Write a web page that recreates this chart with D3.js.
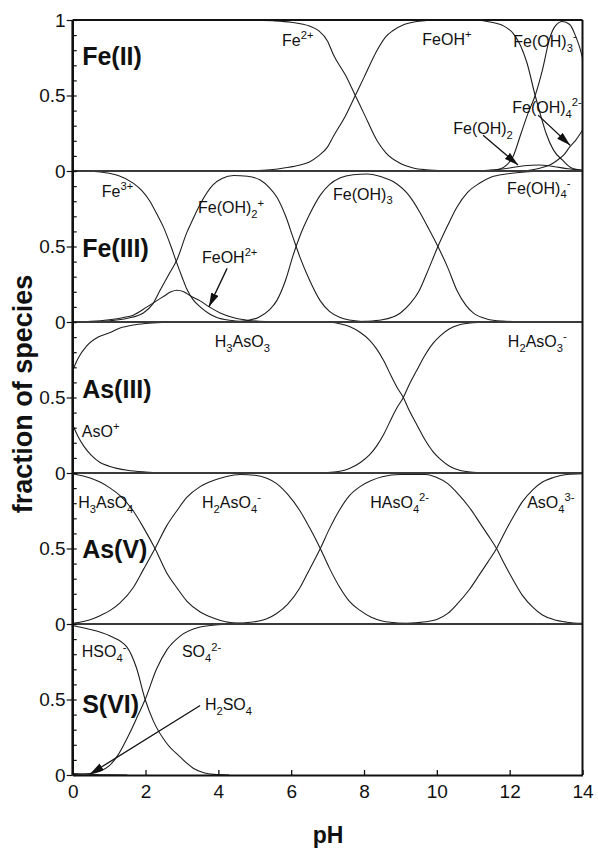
<!DOCTYPE html>
<html><head><meta charset="utf-8">
<script src="https://cdn.jsdelivr.net/npm/d3@7"></script>
<style>body{margin:0;background:#fff}text{font-family:"Liberation Sans",Arial,Helvetica,sans-serif}</style>
</head><body>
<svg id="c" width="598" height="850"></svg>
<script>
// ---------- data (pH, fraction) ----------
const panelNames = ["Fe(II)","Fe(III)","As(III)","As(V)","S(VI)"];
const xTicks = [0,2,4,6,8,10,12,14];
const yMajor = [0,0.5,1];
const yMinor = [0,0.1,0.2,0.3,0.4,0.5,0.6,0.7,0.8,0.9,1];

// Fe(II)
const fe2 = [[0,1],[5,0.999],[5.5,0.995],[6,0.985],[6.5,0.96],[6.75,0.93],[7,0.86],[7.16,0.77],[7.5,0.63],[7.76,0.5],[8,0.38],[8.36,0.2],[8.6,0.12],[9,0.05],[9.35,0.02],[9.7,0.008],[10.2,0.002],[11,0]];
const feOHp = [[4.5,0],[5,0.003],[5.5,0.01],[5.8,0.02],[6.25,0.04],[6.5,0.06],[6.75,0.1],[7,0.16],[7.16,0.23],[7.5,0.37],[7.76,0.5],[8,0.62],[8.36,0.8],[8.6,0.89],[8.8,0.93],[9.1,0.97],[9.45,0.99],[10,1],[11,1],[11.5,0.985],[11.8,0.965],[12.1,0.91],[12.3,0.83],[12.47,0.72],[12.7,0.5],[12.85,0.37],[13,0.25],[13.2,0.14],[13.46,0.07],[13.7,0.02],[14,0.005]];
const feOH3m = [[11,0],[11.5,0.006],[11.75,0.015],[11.92,0.04],[12.1,0.1],[12.3,0.24],[12.5,0.38],[12.7,0.5],[12.9,0.67],[13.1,0.88],[13.25,0.96],[13.45,0.99],[13.65,0.97],[13.8,0.9],[13.92,0.82],[14,0.75]];
const feOH42m = [[12.4,0],[12.85,0.02],[13.1,0.04],[13.3,0.07],[13.5,0.11],[13.65,0.16],[13.8,0.2],[14,0.27]];
const feOH2 = [[11,0],[11.5,0.005],[12,0.02],[12.4,0.035],[12.8,0.04],[13.2,0.03],[13.6,0.015],[14,0.005]];

// Fe(III)
const fe3 = [[0,1],[0.5,0.998],[1,0.985],[1.25,0.97],[1.66,0.92],[1.9,0.87],[2.12,0.8],[2.3,0.72],[2.49,0.63],[2.7,0.5],[2.86,0.39],[3,0.3],[3.13,0.22],[3.3,0.15],[3.5,0.1],[3.75,0.055],[3.96,0.03],[4.3,0.012],[4.8,0.003],[5.3,0]];
const feOH2p = [[0,0.002],[0.5,0.005],[1,0.015],[1.4,0.03],[1.66,0.045],[2.04,0.1],[2.3,0.14],[2.5,0.17],[2.7,0.2],[2.86,0.21],[3.05,0.2],[3.25,0.17],[3.5,0.14],[3.75,0.1],[4.05,0.06],[4.4,0.03],[4.8,0.012],[5.3,0.003],[6,0]];
const feOH2plus = [[0.5,0],[1.03,0.008],[1.5,0.025],[1.94,0.06],[2.2,0.12],[2.4,0.21],[2.65,0.32],[2.86,0.41],[3.13,0.59],[3.3,0.68],[3.5,0.78],[3.86,0.91],[4.1,0.95],[4.42,0.97],[4.8,0.965],[5.15,0.94],[5.4,0.89],[5.6,0.83],[5.85,0.7],[6.05,0.56],[6.24,0.43],[6.5,0.28],[6.8,0.14],[7.05,0.07],[7.35,0.03],[7.7,0.01],[8.3,0]];
const feOH3 = [[4.3,0],[4.8,0.01],[5.1,0.03],[5.4,0.08],[5.6,0.14],[5.85,0.28],[6.05,0.44],[6.24,0.57],[6.5,0.71],[6.8,0.84],[7.05,0.91],[7.35,0.955],[7.7,0.975],[8.08,0.98],[8.5,0.96],[8.8,0.93],[9.26,0.83],[9.5,0.74],[9.75,0.63],[10.03,0.5],[10.3,0.36],[10.55,0.21],[10.8,0.11],[11,0.06],[11.37,0.02],[11.8,0.006],[12.5,0]];
const feOH4m = [[7.5,0],[8,0.004],[8.5,0.015],[9,0.06],[9.26,0.12],[9.5,0.2],[9.72,0.32],[10.03,0.5],[10.3,0.64],[10.55,0.76],[10.85,0.86],[11.18,0.92],[11.5,0.96],[11.9,0.98],[12.5,0.995],[13,1],[14,1]];

// As(III)
const asOp = [[0,0.32],[0.15,0.24],[0.3,0.18],[0.5,0.12],[0.75,0.07],[1,0.045],[1.5,0.018],[2,0.007],[2.5,0.002],[3,0]];
const h3aso3 = [[0,0.68],[0.15,0.76],[0.38,0.84],[0.7,0.9],[1.03,0.93],[1.3,0.96],[1.66,0.98],[2,0.99],[2.5,0.997],[3,1],[7,1],[7.3,0.99],[7.6,0.97],[7.9,0.93],[8.15,0.88],[8.35,0.82],[8.55,0.74],[8.75,0.64],[8.9,0.57],[9.08,0.5],[9.25,0.41],[9.45,0.32],[9.65,0.23],[9.9,0.14],[10.1,0.09],[10.35,0.045],[10.6,0.02],[11,0.005],[11.5,0]];
const h2aso3m = [[6.5,0],[7,0.003],[7.3,0.01],[7.6,0.03],[7.9,0.07],[8.15,0.12],[8.35,0.18],[8.55,0.26],[8.75,0.36],[8.9,0.43],[9.08,0.5],[9.25,0.59],[9.45,0.68],[9.65,0.77],[9.9,0.86],[10.1,0.91],[10.35,0.955],[10.6,0.98],[11,0.995],[11.5,1],[14,1]];

// As(V)
const h3aso4 = [[0,0.995],[0.5,0.965],[0.75,0.94],[1.03,0.9],[1.3,0.85],[1.66,0.75],[1.94,0.64],[2.26,0.5],[2.58,0.34],[2.86,0.24],[3.14,0.15],[3.5,0.08],[3.86,0.04],[4.2,0.015],[4.6,0.005],[5,0]];
const h2aso4m = [[0,0.005],[0.5,0.03],[0.75,0.055],[1.03,0.09],[1.3,0.14],[1.66,0.24],[1.94,0.36],[2.26,0.5],[2.58,0.65],[2.86,0.75],[3.14,0.84],[3.5,0.91],[3.86,0.95],[4.2,0.975],[4.6,0.99],[5,0.985],[5.33,0.965],[5.6,0.93],[5.9,0.86],[6.24,0.75],[6.5,0.64],[6.8,0.5],[7.05,0.37],[7.34,0.24],[7.6,0.15],[7.89,0.09],[8.2,0.045],[8.5,0.02],[8.8,0.01],[9.5,0]];
const haso4 = [[4.3,0],[4.6,0.006],[5,0.015],[5.33,0.035],[5.6,0.07],[5.9,0.13],[6.24,0.24],[6.5,0.36],[6.8,0.5],[7.05,0.63],[7.34,0.76],[7.6,0.85],[7.89,0.91],[8.2,0.95],[8.5,0.975],[9,0.99],[9.7,0.99],[10,0.97],[10.3,0.93],[10.55,0.87],[10.9,0.77],[11.18,0.67],[11.4,0.59],[11.64,0.5],[11.85,0.4],[12.1,0.29],[12.35,0.19],[12.64,0.11],[12.9,0.06],[13.2,0.03],[13.57,0.012],[14,0.004]];
const aso4 = [[9,0.003],[9.5,0.01],[9.7,0.015],[10,0.03],[10.3,0.07],[10.55,0.13],[10.9,0.23],[11.18,0.33],[11.4,0.41],[11.64,0.5],[11.85,0.6],[12.1,0.71],[12.35,0.81],[12.64,0.89],[12.9,0.94],[13.2,0.97],[13.57,0.99],[14,0.995]];

// S(VI)
const hso4m = [[0,0.99],[0.38,0.97],[1.03,0.92],[1.48,0.85],[1.75,0.71],[1.99,0.5],[2.21,0.36],[2.58,0.21],[2.95,0.12],[3.31,0.045],[3.6,0.015],[3.87,0.004],[4.3,0]];
const so4 = [[0,0.003],[0.4,0.008],[0.75,0.025],[1,0.06],[1.21,0.12],[1.57,0.28],[1.8,0.4],[1.99,0.5],[2.3,0.7],[2.59,0.83],[2.95,0.92],[3.5,0.98],[4,0.995],[4.5,1],[14,1]];
const h2so4 = [[0,0.01],[0.3,0.007],[0.6,0.004],[1,0.001],[1.5,0]];

const panelSeries = [
  [fe2, feOHp, feOH3m, feOH42m, feOH2],
  [fe3, feOH2p, feOH2plus, feOH3, feOH4m],
  [asOp, h3aso3, h2aso3m],
  [h3aso4, h2aso4m, haso4, aso4],
  [hso4m, so4, h2so4]
];

// species labels: panel index, text (with _{sub} ^{sup}), anchor pH, fraction
const speciesLabels = [
  [0,"Fe^{2+}",5.75,0.83],[0,"FeOH^{+}",9.6,0.835],[0,"Fe(OH)_{3}^{-}",12.1,0.82],
  [0,"Fe(OH)_{4}^{2-}",12.07,0.385],[0,"Fe(OH)_{2}",10.45,0.245],
  [1,"Fe^{3+}",0.8,0.83],[1,"Fe(OH)_{2}^{+}",3.44,0.72],[1,"FeOH^{2+}",3.55,0.39],
  [1,"Fe(OH)_{3}",7.15,0.81],[1,"Fe(OH)_{4}^{-}",11.93,0.85],
  [2,"H_{3}AsO_{3}",3.9,0.835],[2,"H_{2}AsO_{3}^{-}",11.95,0.835],[2,"AsO^{+}",0.25,0.24],
  [3,"H_{3}AsO_{4}",0.15,0.77],[3,"H_{2}AsO_{4}^{-}",3.55,0.77],[3,"HAsO_{4}^{2-}",8.17,0.77],[3,"AsO_{4}^{3-}",12.48,0.77],
  [4,"HSO_{4}^{-}",0.25,0.78],[4,"SO_{4}^{2-}",3.0,0.78],[4,"H_{2}SO_{4}",3.63,0.43]
];
// arrows: panel, from (pH, frac) to (pH, frac)
const arrows = [
  [0, 11.27,0.236, 12.23,0.04],
  [0, 12.78,0.37, 13.66,0.17],
  [1, 4.24,0.355, 3.74,0.1],
  [4, 3.5,0.46, 0.47,0.005]
];

// ---------- layout ----------
const svg = d3.select("#c");
const PL = 72.7, PR = 582.5, PT = 20, PH = 151;
const x = d3.scaleLinear().domain([0,14]).range([PL,PR]);
const yScale = i => d3.scaleLinear().domain([0,1]).range([PT+(i+1)*PH, PT+i*PH]);
const font = '"Liberation Sans",Arial,Helvetica,sans-serif';

function rich(sel, str, size){
  const re = /(_\{[^}]*\}|\^\{[^}]*\}|[^_^]+)/g;
  let m, shift = 0;
  while((m = re.exec(str))){
    const tok = m[0];
    let t = tok, s = size, ns = 0;
    if(tok[0]==="_"){ t = tok.slice(2,-1); s = size*0.7; ns = size*0.3; }
    else if(tok[0]==="^"){ t = tok.slice(2,-1); s = size*0.7; ns = -size*0.42; }
    sel.append("tspan").attr("font-size", s).attr("dy", ns-shift).text(t);
    shift = ns;
  }
}

const line = d3.line().curve(d3.curveMonotoneX);

panelSeries.forEach((series,i)=>{
  const y = yScale(i);
  line.x(d=>x(d[0])).y(d=>y(d[1]));
  const g = svg.append("g");
  series.forEach(s=>{
    g.append("path").attr("d", line(s)).attr("fill","none")
      .attr("stroke","#1e1e1e").attr("stroke-width",1.1);
  });
});

// panel separator lines
for(let i=1;i<5;i++){
  const yy = PT+i*PH;
  svg.append("line").attr("x1",PL).attr("x2",PR).attr("y1",yy).attr("y2",yy)
    .attr("stroke","#3a3a3a").attr("stroke-width",1.8);
}
// frame
svg.append("line").attr("x1",PL).attr("x2",PR).attr("y1",PT).attr("y2",PT).attr("stroke","#111").attr("stroke-width",2);
svg.append("line").attr("x1",PR).attr("x2",PR).attr("y1",PT).attr("y2",PT+5*PH).attr("stroke","#111").attr("stroke-width",2);

const titleFrac = [0.7,0.43,0.5,0.44,0.41];
// y axes per panel
panelSeries.forEach((s,i)=>{
  const y = yScale(i);
  const gMin = svg.append("g").attr("transform",`translate(${PL},0)`)
    .call(d3.axisRight(y).tickValues(yMinor).tickSize(4).tickFormat(""));
  gMin.select(".domain").remove();
  gMin.selectAll("line").attr("stroke","#111").attr("stroke-width",1.2);
  const vals = i===0 ? yMajor : [0,0.5];
  const gMaj = svg.append("g").attr("transform",`translate(${PL},0)`)
    .call(d3.axisLeft(y).tickValues(vals).tickSize(6).tickPadding(1).tickFormat(d=>d===0.5?"0.5":String(d)));
  gMaj.select(".domain").remove();
  gMaj.selectAll("line").attr("stroke","#111").attr("stroke-width",1.2);
  gMaj.selectAll("text").attr("font-size",19).attr("font-family",font).attr("fill","#111");
  svg.append("text").attr("x",x(0.26)).attr("y",y(titleFrac[i]))
    .attr("font-size",25).attr("font-weight","bold").attr("font-family",font).attr("fill","#111").text(panelNames[i]);
});
// left axis line
svg.append("line").attr("x1",PL).attr("x2",PL).attr("y1",PT).attr("y2",PT+5*PH).attr("stroke","#111").attr("stroke-width",2.6);

// x axis
const yb = PT+5*PH;
const gx = svg.append("g").attr("transform",`translate(0,${yb})`)
  .call(d3.axisBottom(x).tickValues(xTicks).tickSizeInner(-5).tickSizeOuter(0).tickPadding(9.5));
gx.select(".domain").attr("stroke","#111").attr("stroke-width",2.2);
gx.selectAll("line").attr("stroke","#111").attr("stroke-width",1.3);
gx.selectAll("text").attr("font-size",19).attr("font-family",font).attr("fill","#111");

// species labels
speciesLabels.forEach(([p,txt,ph,fr])=>{
  const y = yScale(p);
  const t = svg.append("text").attr("x",x(ph)).attr("y",y(fr)).attr("font-size",16).attr("fill","#111").attr("font-family",font);
  rich(t, txt, 16);
});

// arrows
svg.append("defs").append("marker").attr("id","ah").attr("viewBox","0 0 14 8")
  .attr("refX",14).attr("refY",4).attr("markerWidth",14).attr("markerHeight",8)
  .attr("markerUnits","userSpaceOnUse").attr("orient","auto")
  .append("path").attr("d","M0,0 L14,4 L0,8 Z").attr("fill","#111");
arrows.forEach(([p,a,b,c,d])=>{
  const y = yScale(p);
  svg.append("line").attr("x1",x(a)).attr("y1",y(b)).attr("x2",x(c)).attr("y2",y(d))
    .attr("stroke","#111").attr("stroke-width",1.3).attr("marker-end","url(#ah)");
});

// axis titles
svg.append("text").attr("transform","translate(32,394) rotate(-90)").attr("text-anchor","middle")
  .attr("font-size",27).attr("font-weight","bold").attr("font-family",font).attr("fill","#111").text("fraction of species");
svg.append("text").attr("x",328).attr("y",843).attr("text-anchor","middle")
  .attr("font-size",23).attr("font-weight","bold").attr("font-family",font).attr("fill","#111").text("pH");
</script>
</body></html>
